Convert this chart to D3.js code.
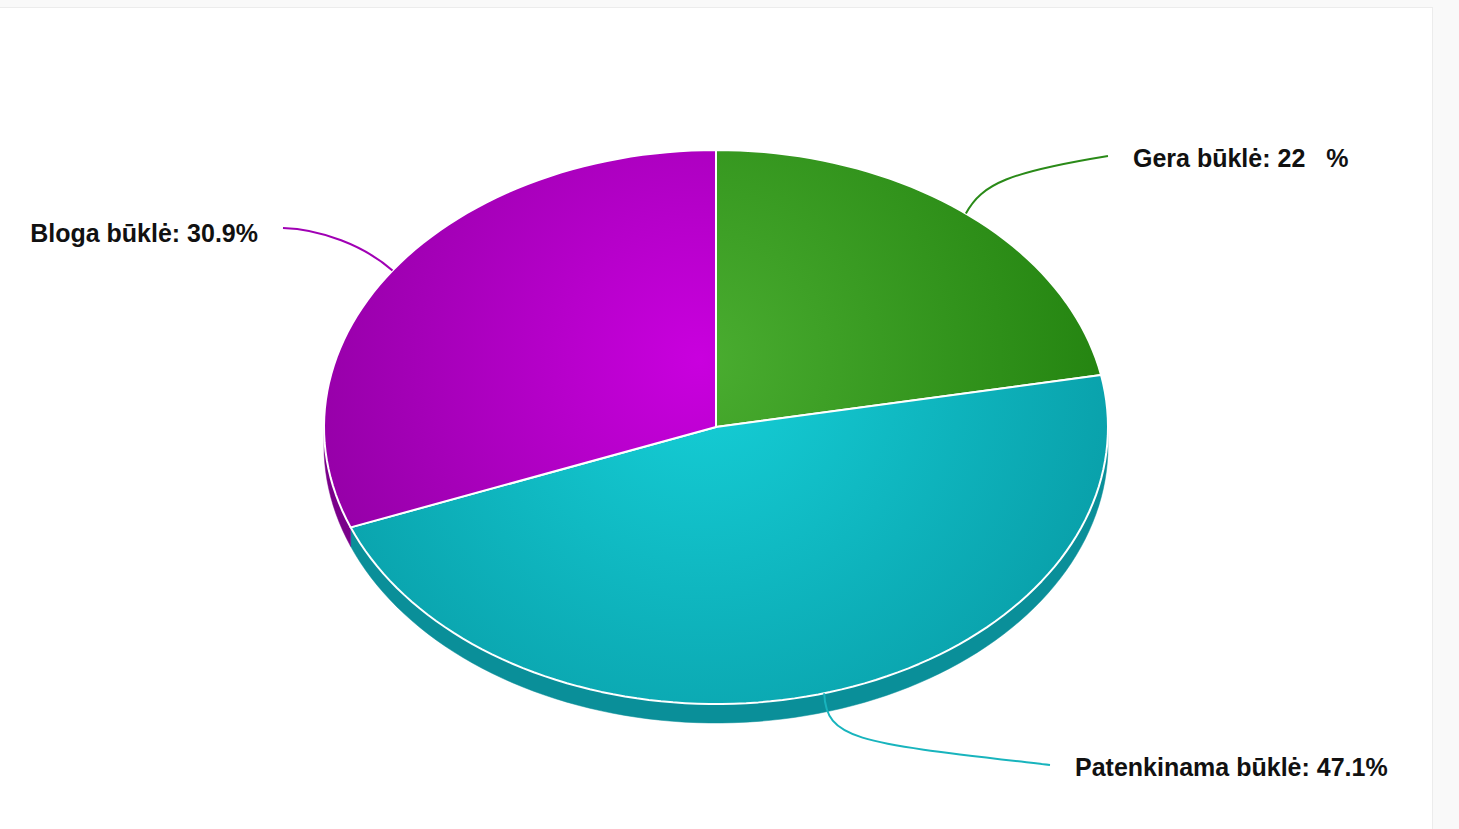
<!DOCTYPE html>
<html><head><meta charset="utf-8">
<script src="https://cdn.jsdelivr.net/npm/d3@7/dist/d3.min.js"></script>
<style>
html,body{margin:0;padding:0;background:#f9f9f9;}
svg{display:block;}
text{font-family:"Liberation Sans",Arial,sans-serif;font-weight:bold;}
</style></head>
<body>
<svg id="chart" width="1459" height="829"></svg>
<script>
// ---- data ----
const categories = ["Gera būklė", "Patenkinama būklė", "Bloga būklė"];
const values = [22.0, 47.1, 30.9];
const valueLabels = ["22   %", "47.1%", "30.9%"];
const topLight = ["#4aad30", "#16d1d9", "#c900de"];
const topDark  = ["#22820f", "#09a0aa", "#9100a3"];
const sideColors = ["#1a6a0a", "#0a8f99", "#7a008a"];
const lineColors = ["#2a8a18", "#18b4bd", "#a000b4"];

// ---- layout ----
const W = 1459, H = 829;
const cx = 716, cy = 427, rx = 392, ry = 277, depth = 19;
// leader line end (relative to pie centre) and curve control offsets
const labelLayout = [
  {end:[392,-271], c1:[16,-30], c2:[-98,16], dx:25, dy:11, anchor:"start"},
  {end:[334,338],  c1:[2,48],   c2:[-190,-22], dx:25, dy:11, anchor:"start"},
  {end:[-433,-199],c1:[-28,-25],c2:[37,1],  dx:-25, dy:14, anchor:"end"}
];

const svg = d3.select("#chart");
svg.append("rect").attr("x",-2).attr("y",7.5).attr("width",1434.5).attr("height",H)
  .attr("fill","#ffffff").attr("stroke","#ececec").attr("stroke-width",1);

const defs = svg.append("defs");
categories.forEach((c,i)=>{
  const g = defs.append("radialGradient").attr("id","g"+i)
    .attr("gradientUnits","userSpaceOnUse")
    .attr("cx",700).attr("cy",360).attr("r",430);
  g.append("stop").attr("offset","0").attr("stop-color",topLight[i]);
  g.append("stop").attr("offset","1").attr("stop-color",topDark[i]);
});

const pie = d3.pie().sort(null).value(d=>d)(values);
const pt = (a, dz=0) => [cx + rx*Math.sin(a), cy - ry*Math.cos(a) + dz];
const N = 200;

// sides (visible lower half: angles between PI/2 and 3PI/2)
const gSide = svg.append("g");
pie.forEach((s,i)=>{
  const a0 = Math.max(s.startAngle, Math.PI/2), a1 = Math.min(s.endAngle, 3*Math.PI/2);
  if (a1 <= a0) return;
  const n = Math.max(2, Math.ceil(N*(a1-a0)/(2*Math.PI)));
  const angs = d3.range(n+1).map(k=>a0+(a1-a0)*k/n);
  const pts = angs.map(a=>pt(a)).concat(angs.slice().reverse().map(a=>pt(a,depth)));
  gSide.append("path").attr("d", d3.line()(pts)+"Z")
    .attr("fill", sideColors[i]).attr("stroke", sideColors[i]).attr("stroke-width",0.5);
});

// top surfaces
const gTop = svg.append("g");
pie.forEach((s,i)=>{
  const a0 = s.startAngle, a1 = s.endAngle;
  const n = Math.max(2, Math.ceil(N*(a1-a0)/(2*Math.PI)));
  const pts = [[cx,cy]].concat(d3.range(n+1).map(k=>pt(a0+(a1-a0)*k/n)));
  gTop.append("path").attr("d", d3.line()(pts)+"Z")
    .attr("fill","url(#g"+i+")").attr("stroke","#ffffff").attr("stroke-width",2)
    .attr("stroke-linejoin","round");
});

// leader lines and labels
const gLab = svg.append("g");
pie.forEach((s,i)=>{
  const mid = (s.startAngle+s.endAngle)/2;
  const p0 = pt(mid);
  const L = labelLayout[i];
  const e = [cx+L.end[0], cy+L.end[1]];
  const path = d3.path();
  path.moveTo(p0[0],p0[1]);
  path.bezierCurveTo(p0[0]+L.c1[0], p0[1]+L.c1[1], e[0]+L.c2[0], e[1]+L.c2[1], e[0], e[1]);
  gLab.append("path").attr("d", path.toString()).attr("fill","none")
    .attr("stroke", lineColors[i]).attr("stroke-width",2);
  gLab.append("text").attr("x", e[0]+L.dx).attr("y", e[1]+L.dy)
    .attr("text-anchor", L.anchor).attr("font-size",25).attr("fill","#111")
    .style("white-space","pre")
    .text(categories[i] + ": " + valueLabels[i]);
});
</script>
</body></html>
